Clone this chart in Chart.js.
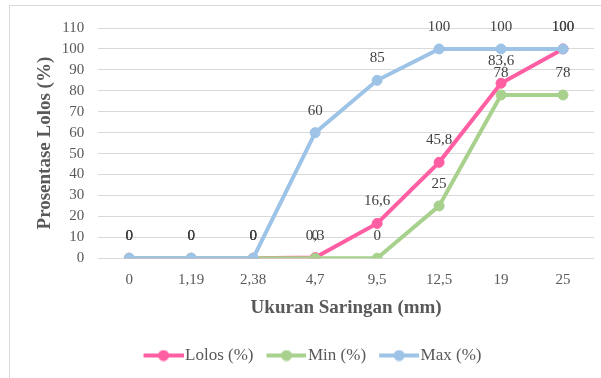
<!DOCTYPE html>
<html lang="id">
<head>
<meta charset="UTF-8">
<title>Gradasi</title>
<script src="https://cdn.jsdelivr.net/npm/chart.js"></script>
<style>
  body{margin:0; background:#fff;}
  #wrap{position:relative; width:601px; height:378px; overflow:hidden;}
  #frame{position:absolute; left:9px; top:5px; width:700px; height:500px; border-left:1px solid #d9d9d9; border-top:1px solid #d9d9d9;}
  #myChart{position:absolute; left:0; top:0;}
</style>
</head>
<body>
<div id="wrap">
  <div id="frame"></div>
  <canvas id="myChart" width="601" height="378"></canvas>
</div>
<script>
// data
const ukuran = ['0', '1,19', '2,38', '4,7', '9,5', '12,5', '19', '25'];
const lolos = [0, 0, 0, 0.3, 16.6, 45.8, 83.6, 100];
const minVal = [0, 0, 0, 0, 0, 25, 78, 78];
const maxVal = [0, 0, 0, 60, 85, 100, 100, 100];
const yTicks = [0, 10, 20, 30, 40, 50, 60, 70, 80, 90, 100, 110];

const pink = '#ff5fa2';
const green = '#a9d18e';
const blue = '#9dc3e6';
const grey = '#595959';
const serif = '"Liberation Serif", "Times New Roman", serif';

// legend marker: line with a dot in the middle
// (transparent strip on the left so the text sits closer to the marker)
function marker(color){
  const c = document.createElement('canvas');
  c.width = 44; c.height = 12;
  const g = c.getContext('2d');
  g.strokeStyle = color; g.lineWidth = 4;
  g.beginPath(); g.moveTo(4, 6); g.lineTo(44, 6); g.stroke();
  g.fillStyle = color;
  g.beginPath(); g.arc(24, 6, 5.5, 0, Math.PI*2); g.fill();
  return c;
}

// data labels above each point
const labelPlugin = {
  id: 'pointLabels',
  afterDatasetsDraw(chart){
    const ctx = chart.ctx;
    ctx.save();
    ctx.font = '15px ' + serif;
    ctx.fillStyle = '#404040';
    ctx.textAlign = 'center';
    ctx.textBaseline = 'middle';
    chart.data.datasets.forEach((ds, i) => {
      const meta = chart.getDatasetMeta(i);
      meta.data.forEach((pt, j) => {
        const txt = String(ds.data[j]).replace('.', ',');
        ctx.fillText(txt, pt.x, pt.y - 22);
      });
    });
    ctx.restore();
  }
};

const ctx = document.getElementById('myChart');
const myChart = new Chart(ctx, {
  type: 'line',
  data: {
    labels: ukuran,
    datasets: [
      {label: 'Lolos (%)', data: lolos, borderColor: pink, backgroundColor: pink, pointBackgroundColor: pink, pointBorderColor: pink, order: 2},
      {label: 'Min (%)', data: minVal, borderColor: green, backgroundColor: green, pointBackgroundColor: green, pointBorderColor: green, order: 1},
      {label: 'Max (%)', data: maxVal, borderColor: blue, backgroundColor: blue, pointBackgroundColor: blue, pointBorderColor: blue, order: 0}
    ]
  },
  options: {
    responsive: false,
    animation: false,
    layout: {padding: {left: 34, right: 7, top: 28, bottom: 4}},
    elements: {
      line: {borderWidth: 4, tension: 0},
      point: {radius: 5, hoverRadius: 5, borderWidth: 1, pointStyle: 'circle'}
    },
    scales: {
      x: {
        offset: true,
        grid: {display: false},
        border: {display: false},
        ticks: {color: grey, font: {family: serif, size: 15}, padding: 5},
        title: {display: true, text: 'Ukuran Saringan (mm)', color: grey,
                font: {family: serif, size: 19, weight: 'bold'}, padding: {top: 2, bottom: 12}}
      },
      y: {
        min: 0, max: 110,
        afterBuildTicks(axis){ axis.ticks = yTicks.map(v => ({value: v})); },
        grid: {color: '#d9d9d9', lineWidth: 1, drawTicks: false},
        border: {display: false},
        ticks: {color: grey, font: {family: serif, size: 15}, padding: 14, autoSkip: false},
        title: {display: true, text: 'Prosentase Lolos (%)', color: grey,
                font: {family: serif, size: 19, weight: 'bold'}, padding: {top: 0, bottom: -9}}
      }
    },
    plugins: {
      legend: {
        position: 'bottom',
        labels: {
          usePointStyle: true, pointStyleWidth: 30, boxHeight: 12,
          color: grey, font: {family: serif, size: 17}, padding: 16,
          generateLabels(chart){
            return chart.data.datasets.map((ds, i) => ({
              text: ds.label, datasetIndex: i, fontColor: grey,
              pointStyle: marker(ds.borderColor), lineWidth: 0,
              strokeStyle: ds.borderColor, fillStyle: ds.borderColor, hidden: false
            }));
          }
        }
      },
      tooltip: {enabled: false}
    }
  },
  plugins: [labelPlugin]
});
</script>
</body>
</html>
